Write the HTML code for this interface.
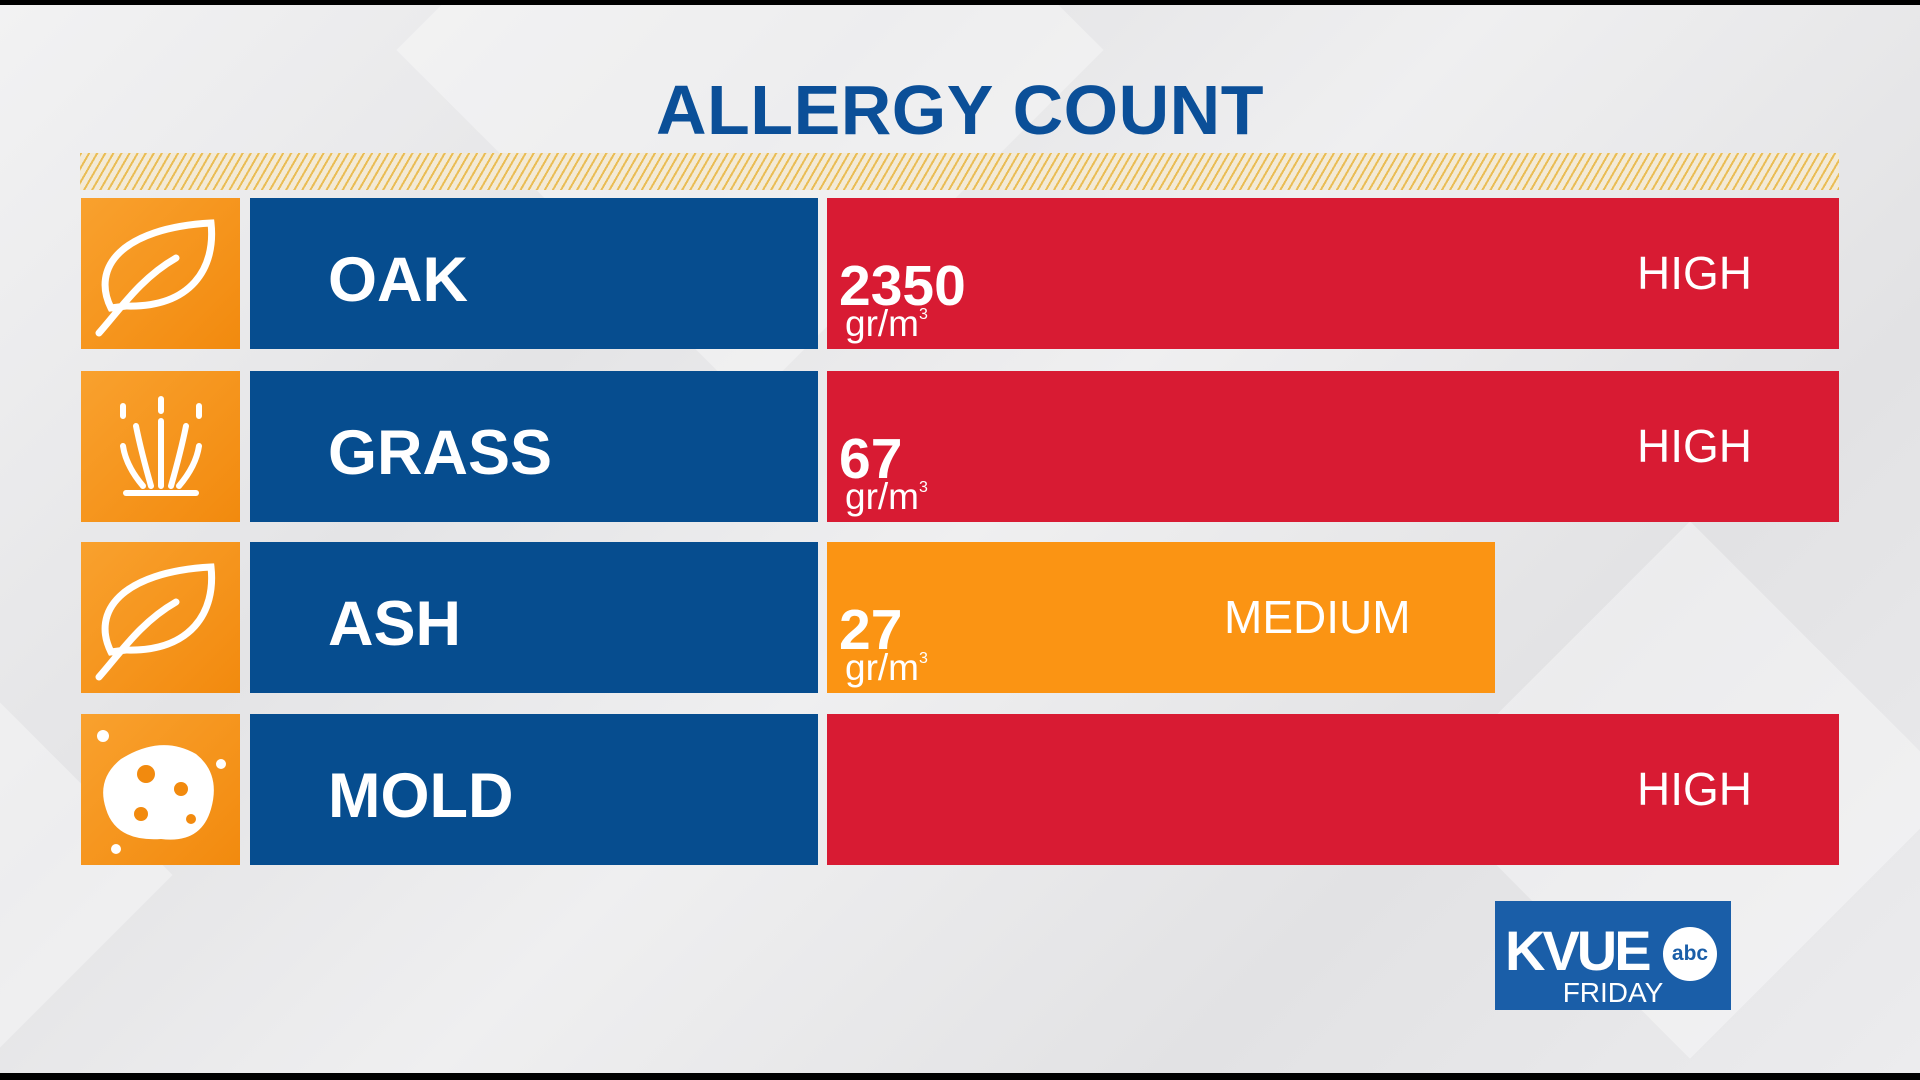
<!DOCTYPE html>
<html><head><meta charset="utf-8"><style>
*{margin:0;padding:0;box-sizing:border-box}
html,body{width:1920px;height:1080px;overflow:hidden}
body{font-family:"Liberation Sans",sans-serif;background:#e8e8ea}
#w{position:absolute;left:0;top:0;width:1920px;height:1080px;overflow:hidden;
background:linear-gradient(135deg,#f2f2f3 0%,#e4e4e6 30%,#efeff0 50%,#e2e2e4 75%,#ececee 100%)}
.top{position:absolute;left:0;top:0;width:1920px;height:5px;background:#000}
.bot{position:absolute;left:0;top:1073px;width:1920px;height:7px;background:#000}
.chev{position:absolute;background:rgba(255,255,255,.35);transform:rotate(45deg)}
.title{position:absolute;left:0;width:1920px;top:70px;text-align:center;font-weight:bold;font-size:70px;color:#0b4f98;letter-spacing:0.5px}
.stripe{position:absolute;left:80px;top:153px;width:1759px;height:37px;
background:repeating-linear-gradient(120deg,#eabd55 0 2px,#f3ead6 2px 7px)}
.icon{position:absolute;left:81px;width:159px;height:151px;background:linear-gradient(135deg,#f9a12e,#f28a0e)}
.lab{position:absolute;left:250px;width:568px;height:151px;background:#064d8f;color:#fff;font-weight:bold;font-size:63px;padding-left:78px;padding-top:13px;line-height:138px}
.bar{position:absolute;left:827px;height:151px;background:#d81b33;color:#fff}
.num{position:absolute;left:12px;top:60px;font-weight:bold;font-size:57px;line-height:1}
.unit{position:absolute;left:18px;top:107px;font-size:37px;line-height:1}
.unit sup{font-size:16px;vertical-align:top;position:relative;top:2px}
.lvl{position:absolute;top:52px;font-size:46px;line-height:1}
.logo{position:absolute;left:1495px;top:901px;width:236px;height:109px;background:#1a5ea8;color:#fff}
</style></head><body><div id="w">
<div class="chev" style="left:500px;top:-200px;width:500px;height:500px"></div>
<div class="chev" style="left:1500px;top:600px;width:380px;height:380px"></div>
<div class="chev" style="left:-250px;top:700px;width:350px;height:350px"></div>
<div class="top"></div><div class="bot"></div>
<div class="title">ALLERGY COUNT</div>
<div class="stripe"></div>

<div class="icon" style="top:198px"><svg width="159" height="151" viewBox="0 0 159 151"><path d="M30 110 C10 70 40 30 130 25 C135 70 110 110 45 108 Z M18 135 C40 110 60 80 95 60" fill="none" stroke="#fff" stroke-width="7" stroke-linecap="round"/></svg></div>
<div class="lab" style="top:198px">OAK</div>
<div class="bar" style="top:198px;width:1012px"><div class="num">2350</div><div class="unit">gr/m<sup>3</sup></div><div class="lvl" style="left:810px">HIGH</div></div>

<div class="icon" style="top:371px"><svg width="159" height="151" viewBox="0 0 159 151"><g stroke="#fff" stroke-width="6" stroke-linecap="round" fill="none"><path d="M45 122 H115"/><path d="M80 115 V50 M70 115 Q60 80 55 55 M90 115 Q100 80 105 55 M62 115 Q45 95 42 75 M98 115 Q115 95 118 75"/><path d="M42 45 V35 M118 45 V35 M80 40 V28"/></g></svg></div>
<div class="lab" style="top:371px">GRASS</div>
<div class="bar" style="top:371px;width:1012px"><div class="num">67</div><div class="unit">gr/m<sup>3</sup></div><div class="lvl" style="left:810px">HIGH</div></div>

<div class="icon" style="top:542px"><svg width="159" height="151" viewBox="0 0 159 151"><path d="M30 110 C10 70 40 30 130 25 C135 70 110 110 45 108 Z M18 135 C40 110 60 80 95 60" fill="none" stroke="#fff" stroke-width="7" stroke-linecap="round"/></svg></div>
<div class="lab" style="top:542px">ASH</div>
<div class="bar" style="top:542px;width:668px;background:#fb9413"><div class="num">27</div><div class="unit">gr/m<sup>3</sup></div><div class="lvl" style="left:397px">MEDIUM</div></div>

<div class="icon" style="top:714px"><svg width="159" height="151" viewBox="0 0 159 151"><path d="M40 45 Q80 20 115 40 Q140 60 130 95 Q120 130 80 125 Q35 128 25 95 Q15 65 40 45Z" fill="#fff"/><circle cx="65" cy="60" r="9" fill="#f28a0e"/><circle cx="100" cy="75" r="7" fill="#f28a0e"/><circle cx="60" cy="100" r="7" fill="#f28a0e"/><circle cx="110" cy="105" r="5" fill="#f28a0e"/><circle cx="22" cy="22" r="6" fill="#fff"/><circle cx="140" cy="50" r="5" fill="#fff"/><circle cx="35" cy="135" r="5" fill="#fff"/></svg></div>
<div class="lab" style="top:714px">MOLD</div>
<div class="bar" style="top:714px;width:1012px"><div class="lvl" style="left:810px">HIGH</div></div>

<div class="logo">
<div style="position:absolute;left:10px;top:22px;font-weight:bold;font-size:56px;letter-spacing:-3px;line-height:1">KVUE</div>
<div style="position:absolute;left:168px;top:26px;width:54px;height:54px;border-radius:50%;background:#fff;color:#1a5ea8;font-weight:bold;font-size:21px;line-height:54px;text-align:center">abc</div>
<div style="position:absolute;left:0;width:236px;top:78px;text-align:center;font-size:28px;line-height:1">FRIDAY</div>
</div>
</div></body></html>
